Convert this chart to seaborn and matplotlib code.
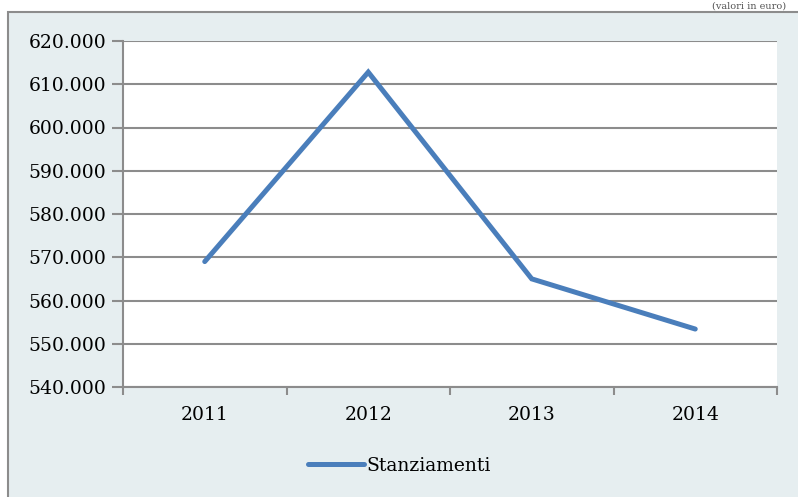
import pandas as pd
import matplotlib.pyplot as plt
import matplotlib.ticker as mticker
from matplotlib.patches import Rectangle
import seaborn as sns

# data
anni = ["2011", "2012", "2013", "2014"]
stanziamenti = [569000, 612800, 565000, 553400]

df = pd.DataFrame({"Anno": anni, "Stanziamenti": stanziamenti})

sns.set_style("white")
plt.rcParams["font.family"] = ["DejaVu Serif"]
plt.rcParams["text.color"] = "black"
plt.rcParams["xtick.color"] = "#8c8c8c"
plt.rcParams["ytick.color"] = "#8c8c8c"
plt.rcParams["xtick.labelcolor"] = "black"
plt.rcParams["ytick.labelcolor"] = "black"

fig = plt.figure(figsize=(7.98, 4.97), dpi=100)
fig.patch.set_facecolor("white")

# outer chart box (light background, grey border)
fig.patches.append(Rectangle((8 / 798, -0.05), 1.0, 1 - 12 / 497 + 0.05,
                             transform=fig.transFigure, facecolor="#e6eef0",
                             edgecolor="#8c8c8c", linewidth=1.5, zorder=-10))
fig.text(0.985, 1 - 11 / 497, "(valori in euro)", ha="right", va="bottom",
         fontsize=7, color="#555555")

ax = fig.add_axes([123 / 798, 1 - 387 / 497, 654 / 798, 346 / 497])
ax.set_facecolor("white")

sns.lineplot(data=df, x="Anno", y="Stanziamenti", ax=ax, color="#4a7ebb",
             linewidth=3.6, solid_capstyle="round", solid_joinstyle="miter",
             label="Stanziamenti", zorder=3)

ax.set_xlim(-0.5, 3.5)
ax.set_ylim(540000, 620000)
ax.yaxis.set_major_locator(mticker.MultipleLocator(10000))
ax.yaxis.set_major_formatter(mticker.FuncFormatter(lambda v, p: f"{v / 1000:.3f}"))
ax.grid(axis="y", color="#8c8c8c", linewidth=1.5)
ax.set_axisbelow(True)

# category labels at centres, tick marks at boundaries
ax.set_xticks(range(len(anni)))
ax.set_xticklabels(anni)
ax.set_xticks([i - 0.5 for i in range(len(anni) + 1)], minor=True)
ax.tick_params(axis="x", which="major", bottom=True, length=0, pad=14, labelsize=13.5)
ax.tick_params(axis="x", which="minor", bottom=True, length=6, width=1.5, color="#8c8c8c")
ax.tick_params(axis="y", left=True, length=8, width=1.5, color="#8c8c8c", labelsize=13.5, pad=4)

for s in ["top", "right"]:
    ax.spines[s].set_visible(False)
for s in ["left", "bottom"]:
    ax.spines[s].set_color("#8c8c8c")
    ax.spines[s].set_linewidth(1.5)

ax.set_xlabel("")
ax.set_ylabel("")

leg = ax.legend(loc="center", bbox_to_anchor=(0.5, 1 - 466 / 497),
                bbox_transform=fig.transFigure, frameon=False, fontsize=13.5,
                handlelength=3.0, handletextpad=0.1)

fig.savefig("out.png", dpi=100, facecolor=fig.get_facecolor())
